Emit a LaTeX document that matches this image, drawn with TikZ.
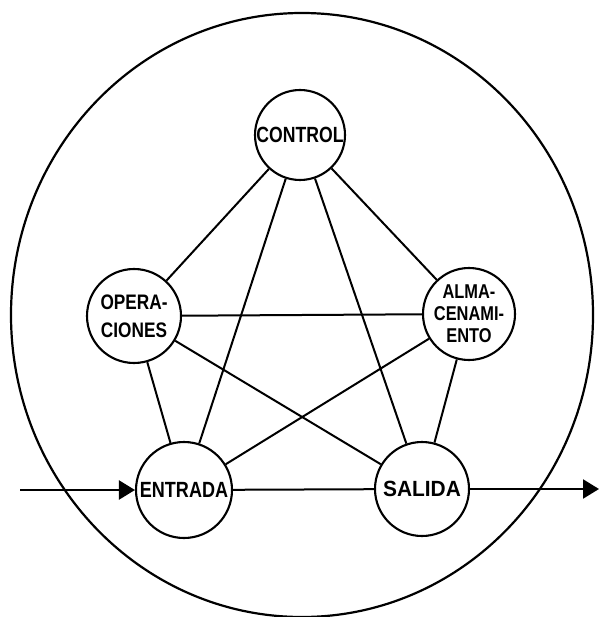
\documentclass[tikz,border=0pt]{standalone}
\usepackage{fontspec}
\setmainfont{Liberation Sans}
\usetikzlibrary{arrows.meta}
\tikzset{
  ring/.style={circle,draw,line width=2.1pt,inner sep=0pt,minimum size=#1},
  ring/.default=92pt,
  lbl/.style={inner sep=0pt,align=center,font=\bfseries\fontsize{22}{24}\selectfont},
  link/.style={line width=2pt},
  flow/.style={line width=2.2pt,-{Triangle[length=16pt,width=19pt]}}
}
\begin{document}
\begin{tikzpicture}[x=1pt,y=-1pt]
\useasboundingbox (0,0) rectangle (599,617);
\fill[white] (0,0) rectangle (599,617);
\draw[line width=2.2pt] (302,315) ellipse [x radius=291, y radius=302];
% circles
\node[ring=90pt] (C) at (300,135) {};
\node[ring=94pt] (O) at (134,316) {};
\node[ring=92pt] (A) at (469,314) {};
\node[ring=96pt] (E) at (184,490) {};
\node[ring=94pt] (S) at (422,489) {};
% labels
\node[lbl] (tC) at (C) {\scalebox{0.8}[1]{CONTROL}};
\node[lbl,font=\bfseries\fontsize{21}{28}\selectfont] (tO) at (O) {\scalebox{0.82}[1]{OPERA-}\\\scalebox{0.82}[1]{CIONES}};
\node[lbl,font=\bfseries\fontsize{20}{22}\selectfont] (tA) at (A) {\scalebox{0.82}[1]{ALMA-}\\\scalebox{0.82}[1]{CENAMI-}\\\scalebox{0.82}[1]{ENTO}};
\node[lbl] (tE) at (E) {\scalebox{0.82}[1]{ENTRADA}};
\node[lbl] (tS) at (S) {\scalebox{0.95}[1]{SALIDA}};
% links
\draw[link] (C) -- (O);
\draw[link] (C) -- (A);
\draw[link] (C) -- (E);
\draw[link] (C) -- (S);
\draw[link] (O) -- (A);
\draw[link] (O) -- (E);
\draw[link] (O) -- (S);
\draw[link] (A) -- (E);
\draw[link] (A) -- (S);
\draw[link] (E) -- (S);
% flow
\coordinate (in) at (20,490);
\coordinate (out) at (599,489);
\draw[flow] (in) -- (E);
\draw[flow] (S) -- (out);
\end{tikzpicture}
\end{document}
